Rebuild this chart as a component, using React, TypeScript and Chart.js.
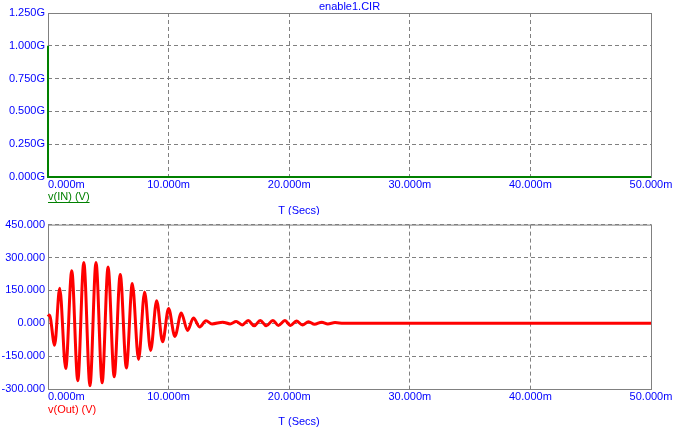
import React, { useEffect, useRef } from "react";
import { Chart, registerables } from "chart.js";
Chart.register(...registerables);

const chartTitle = "enable1.CIR";
const xTickValues = [0, 10, 20, 30, 40, 50];
const xTickLabels = ["0.000m", "10.000m", "20.000m", "30.000m", "40.000m", "50.000m"];
const xAxisTitle = "T (Secs)";

const inTickLabels = ["0.000G", "0.250G", "0.500G", "0.750G", "1.000G", "1.250G"];
const outTickLabels = ["-300.000", "-150.000", "0.000", "150.000", "300.000", "450.000"];

const inLabel = "v(IN) (V)";
const inTimes = [0, 0.001, 50];
const inValues = [1e9, 0, 0];

const outLabel = "v(Out) (V)";
const outTimes = [0, 0.12, 0.55, 0.97, 1.47, 1.97, 2.47, 2.97, 3.48, 3.98, 4.49, 4.98, 5.49, 5.99, 6.5, 6.99, 7.51, 8.01, 8.51, 9.01, 9.5, 10.0, 10.52, 11.05, 11.57, 12.06, 12.57, 13.1, 13.6, 14.5, 15.1, 15.6, 16.1, 16.6, 17.1, 17.6, 18.1, 18.65, 19.1, 19.65, 20.1, 20.6, 21.1, 21.6, 22.1, 22.7, 23.2, 23.8, 24.5, 50];
const outValues = [30, 38, -100, 160, -207, 240, -262, 277, -285, 277, -272, 256, -244, 222, -204, 181, -165, 142, -124, 103, -85, 67, -60, 47, -33, 24, -17, 11, -3, 5, -3, 8, -8, 12, -12, 13, -12, 13, -10, 12, -10, 10, -8, 7, -5, 5, -3, 3, 0, 0];

const FONT = "11px 'Liberation Sans', Arial, sans-serif";
const BLUE = "#0000FF";
const GRAY = "#808080";

type PanelCfg = {
  height: number;
  padTop: number;
  xAxisH: number;
  yMin: number;
  yMax: number;
  yStep: number;
  yLabels: string[];
  times: number[];
  values: number[];
  color: string;
  width: number;
  label: string;
  underline: boolean;
  labelY: number;
  titleY: number;
  showTitle: boolean;
  smooth: boolean;
};

function makeDecor(cfg: PanelCfg) {
  return {
    id: "decor",
    beforeDatasetsDraw(chart: any) {
      const { ctx, chartArea: a } = chart;
      ctx.save();
      ctx.strokeStyle = GRAY;
      ctx.lineWidth = 1;
      ctx.strokeRect(a.left + 0.5, a.top + 0.5, a.right - a.left, a.bottom - a.top);
      ctx.restore();
    },
    afterDraw(chart: any) {
      const { ctx, chartArea: a } = chart;
      const xs = chart.scales.x;
      ctx.save();
      ctx.font = FONT;
      ctx.fillStyle = BLUE;
      ctx.textBaseline = "middle";
      xTickValues.forEach((v, i) => {
        const px = xs.getPixelForValue(v);
        ctx.textAlign = i === 0 ? "left" : "center";
        ctx.fillText(xTickLabels[i], i === 0 ? px : px, a.bottom + 7.5);
      });
      ctx.textAlign = "center";
      ctx.fillText(xAxisTitle, 299, cfg.titleY);
      if (cfg.showTitle) {
        ctx.fillText(chartTitle, (a.left + a.right) / 2, 7);
      }
      ctx.fillStyle = cfg.color;
      ctx.textAlign = "left";
      ctx.fillText(cfg.label, a.left, cfg.labelY);
      if (cfg.underline) {
        const w = ctx.measureText(cfg.label).width;
        ctx.fillRect(a.left, cfg.labelY + 5, w, 1);
      }
      ctx.restore();
    },
  };
}

function Panel({ cfg, top }: { cfg: PanelCfg; top: number }) {
  const ref = useRef<HTMLCanvasElement | null>(null);
  useEffect(() => {
    if (!ref.current) return;
    const data = cfg.times.map((t, i) => ({ x: t, y: cfg.values[i] }));
    const chart = new Chart(ref.current, {
      type: "line",
      data: {
        datasets: [
          {
            data,
            borderColor: cfg.color,
            borderWidth: cfg.width,
            pointRadius: 0,
            fill: false,
            clip: false as any,
            cubicInterpolationMode: cfg.smooth ? "monotone" : "default",
            tension: 0,
          },
        ],
      },
      options: {
        responsive: false,
        animation: false,
        devicePixelRatio: 1,
        events: [],
        layout: { padding: { top: cfg.padTop, right: 26, bottom: 0, left: 0 } },
        plugins: { legend: { display: false }, title: { display: false }, tooltip: { enabled: false } },
        scales: {
          x: {
            type: "linear",
            min: 0,
            max: 50,
            ticks: { stepSize: 10, display: false },
            grid: { color: GRAY, lineWidth: 1, drawTicks: false },
            border: { display: false, dash: [4, 3] },
            afterFit: (s: any) => {
              s.height = cfg.xAxisH;
            },
          },
          y: {
            type: "linear",
            min: cfg.yMin,
            max: cfg.yMax,
            ticks: {
              stepSize: cfg.yStep,
              color: BLUE,
              font: { family: "'Liberation Sans', Arial, sans-serif", size: 11 },
              padding: 3,
              callback: (v: any) => cfg.yLabels[Math.round((Number(v) - cfg.yMin) / cfg.yStep)] ?? "",
            },
            grid: { color: GRAY, lineWidth: 1, drawTicks: false },
            border: { display: false, dash: [4, 3] },
            afterFit: (s: any) => {
              s.width = 48;
            },
          },
        },
      },
      plugins: [makeDecor(cfg)],
    } as any);
    return () => chart.destroy();
  }, []);
  return (
    <canvas
      ref={ref}
      width={677}
      height={cfg.height}
      style={{ position: "absolute", left: 0, top, width: 677, height: cfg.height, display: "block" }}
    />
  );
}

const topCfg: PanelCfg = {
  height: 215,
  padTop: 13,
  xAxisH: 38,
  yMin: 0,
  yMax: 1.25e9,
  yStep: 0.25e9,
  yLabels: inTickLabels,
  times: inTimes,
  values: inValues,
  color: "#008000",
  width: 2,
  label: inLabel,
  underline: true,
  labelY: 197,
  titleY: 211,
  showTitle: true,
  smooth: false,
};

const bottomCfg: PanelCfg = {
  height: 216,
  padTop: 9,
  xAxisH: 42,
  yMin: -300,
  yMax: 450,
  yStep: 150,
  yLabels: outTickLabels,
  times: outTimes,
  values: outValues,
  color: "#FF0000",
  width: 3,
  label: outLabel,
  underline: false,
  labelY: 194.5,
  titleY: 207,
  showTitle: false,
  smooth: true,
};

export default function App() {
  return (
    <div style={{ position: "absolute", left: 0, top: 0, width: 677, height: 431, background: "#fff" }}>
      <Panel cfg={topCfg} top={0} />
      <Panel cfg={bottomCfg} top={215} />
    </div>
  );
}
